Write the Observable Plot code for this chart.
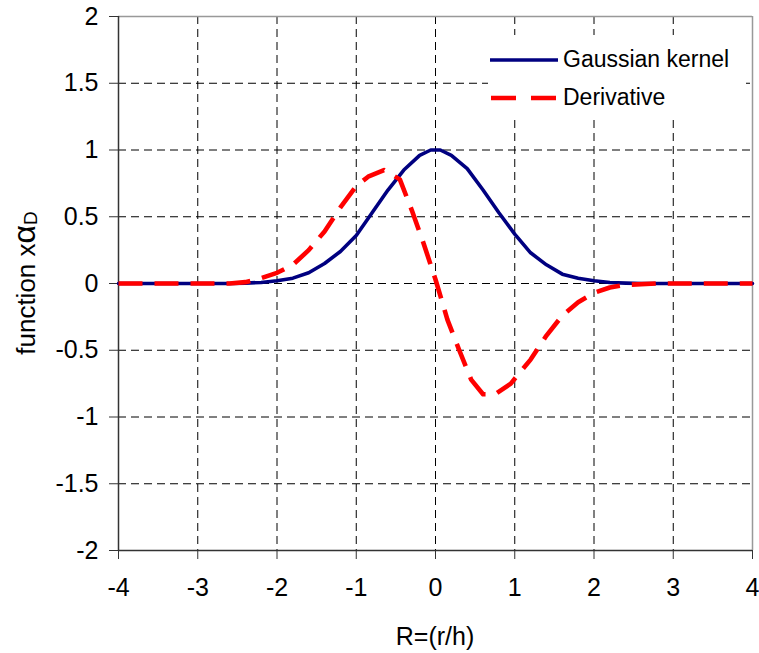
<!DOCTYPE html>
<html>
<head>
<meta charset="utf-8">
<script src="https://cdn.jsdelivr.net/npm/d3@7"></script>
<script src="https://cdn.jsdelivr.net/npm/@observablehq/plot@0.6"></script>
<style>
  html, body { margin: 0; padding: 0; background: #fff; }
</style>
</head>
<body>
<div id="chart"></div>
<script>
// ---- data ----
const gaussR = [-4, -3.5, -3, -2.6, -2.4, -2.2, -2.0, -1.8, -1.6, -1.4, -1.2, -1.0, -0.8, -0.6, -0.4, -0.2, -0.06, 0.06, 0.2, 0.4, 0.6, 0.8, 1.0, 1.2, 1.4, 1.6, 1.8, 2.0, 2.2, 2.4, 2.6, 3, 3.5, 4];
const gaussV = [0, 0, 0, 0, 0.003, 0.008, 0.02, 0.04, 0.08, 0.15, 0.24, 0.36, 0.53, 0.70, 0.85, 0.96, 1.0, 1.0, 0.96, 0.86, 0.70, 0.53, 0.37, 0.23, 0.14, 0.07, 0.04, 0.02, 0.008, 0.003, 0, 0, 0, 0];

const derivR = [-4, -3, -2.6, -2.4, -2.2, -2.0, -1.8, -1.6, -1.4, -1.2, -1.0, -0.85, -0.65, -0.45, -0.3, -0.15, 0, 0.15, 0.3, 0.45, 0.6, 0.75, 0.95, 1.2, 1.4, 1.6, 1.8, 2.0, 2.2, 2.4, 2.8, 3, 4];
const derivV = [0, 0, 0, 0.01, 0.04, 0.08, 0.14, 0.25, 0.39, 0.57, 0.73, 0.80, 0.85, 0.78, 0.55, 0.30, 0.03, -0.27, -0.50, -0.72, -0.83, -0.83, -0.75, -0.57, -0.39, -0.24, -0.14, -0.07, -0.03, -0.01, 0, 0, 0];

const xTicks = [-4, -3, -2, -1, 0, 1, 2, 3, 4];
const yTicks = [-2, -1.5, -1, -0.5, 0, 0.5, 1, 1.5, 2];

const seriesNames = ["Gaussian kernel", "Derivative"];
const xLabel = "R=(r/h)";

const gauss = gaussR.map((r, i) => ({r, v: gaussV[i]}));
const deriv = derivR.map((r, i) => ({r, v: derivV[i]}));

const W = 759, H = 653;
const mL = 118, mR = 7, mT = 16, mB = 103;
const font = "'Liberation Sans', Arial, sans-serif";

const chart = Plot.plot({
  width: W,
  height: H,
  marginLeft: mL,
  marginRight: mR,
  marginTop: mT,
  marginBottom: mB,
  style: {fontFamily: font, fontSize: "25px", color: "#000", background: "#fff", overflow: "visible"},
  x: {domain: [-4, 4], label: null},
  y: {domain: [-2, 2], label: null},
  marks: [
    Plot.gridX(xTicks.filter(d => d !== -4 && d !== 4), {stroke: "#000", strokeOpacity: 1, strokeDasharray: "8,5", strokeWidth: 1}),
    Plot.gridY(yTicks.filter(d => d !== -2 && d !== 2), {stroke: "#000", strokeOpacity: 1, strokeDasharray: "8,5", strokeWidth: 1}),
    Plot.ruleY([2], {stroke: "#999", strokeWidth: 1.5}),
    Plot.ruleX([4], {stroke: "#999", strokeWidth: 1.5}),
    Plot.ruleX([-4], {stroke: "#333", strokeWidth: 1.5}),
    Plot.ruleY([-2], {stroke: "#333", strokeWidth: 1.5}),
    Plot.axisX({ticks: xTicks, tickSize: 9, tickPadding: 19, tickFormat: d => String(d), label: null, stroke: "#333", fontSize: 25}),
    Plot.axisY({ticks: yTicks, tickSize: 9, tickPadding: 11, tickFormat: d => String(d), label: null, stroke: "#333", fontSize: 25}),
    Plot.line(gauss, {x: "r", y: "v", stroke: "#000080", strokeWidth: 3.6, strokeLinejoin: "round"}),
    Plot.line(deriv, {x: "r", y: "v", stroke: "#ff0000", strokeWidth: 4.6, strokeDasharray: "24,12", strokeLinecap: "butt"})
  ]
});

const svg = d3.select(chart);

// legend (white box covering grid)
const lg = svg.append("g").attr("font-family", font).attr("font-size", 23).attr("text-anchor", "start");
lg.append("rect").attr("x", 488).attr("y", 35).attr("width", 258).attr("height", 81).attr("fill", "#fff");
lg.append("line").attr("x1", 490).attr("x2", 558).attr("y1", 60).attr("y2", 60)
  .attr("stroke", "#000080").attr("stroke-width", 3.6);
lg.append("line").attr("x1", 491).attr("x2", 557).attr("y1", 98).attr("y2", 98)
  .attr("stroke", "#ff0000").attr("stroke-width", 4.6).attr("stroke-dasharray", "25,15");
lg.append("text").attr("x", 563).attr("y", 67).attr("font-size", 23).attr("text-anchor", "start").text(seriesNames[0]);
lg.append("text").attr("x", 563).attr("y", 105).attr("font-size", 23).attr("text-anchor", "start").text(seriesNames[1]);

// axis titles
svg.append("text").attr("x", 435).attr("y", 645).attr("text-anchor", "middle")
  .attr("font-family", font).attr("font-size", 25).text(xLabel);

const yl = svg.append("text").attr("transform", "translate(35,283) rotate(-90)")
  .attr("text-anchor", "middle").attr("font-family", font).attr("font-size", 26);
yl.append("tspan").text("function x");
yl.append("tspan").attr("font-size", 32).text("α");
yl.append("tspan").attr("font-size", 19).attr("dy", "0.1em").text("D");

document.getElementById("chart").appendChild(chart);
</script>
</body>
</html>
